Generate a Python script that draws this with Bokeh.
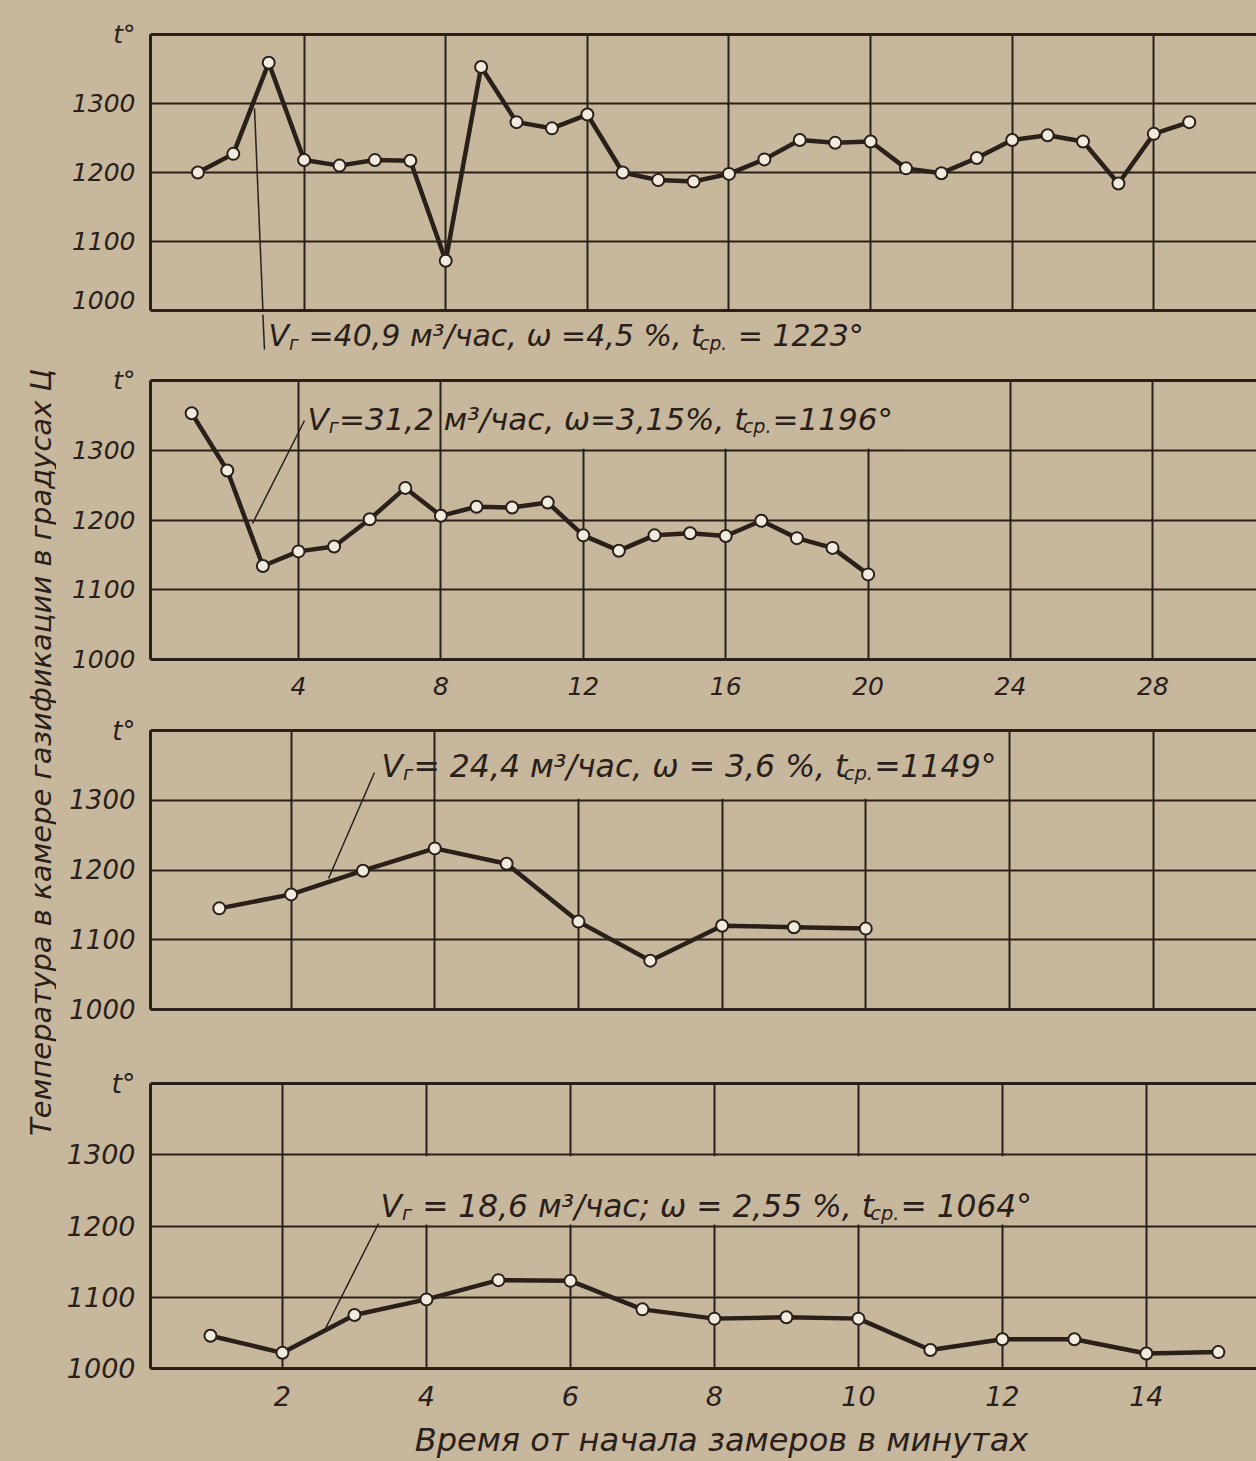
from math import pi
from bokeh.plotting import figure
from bokeh.models import Range1d, FixedTicker, LinearAxis, Label, Arrow
from bokeh.layouts import row, column
from bokeh.embed import file_html
from bokeh.resources import INLINE

# ---------------- data ----------------
minutes_1 = list(range(1, 30))
temp_1 = [1200, 1227, 1359, 1218, 1210, 1218, 1217, 1072, 1353, 1273, 1264, 1284,
          1200, 1189, 1187, 1198, 1219, 1247, 1243, 1245, 1206, 1199, 1221, 1247,
          1254, 1245, 1184, 1256, 1273]
minutes_2 = list(range(1, 21))
temp_2 = [1353, 1271, 1134, 1155, 1162, 1201, 1246, 1206, 1219, 1218, 1225, 1178,
          1156, 1178, 1181, 1177, 1199, 1174, 1160, 1122]
minutes_3 = list(range(1, 11))
temp_3 = [1145, 1165, 1199, 1231, 1209, 1126, 1070, 1120, 1118, 1116]
minutes_4 = list(range(1, 16))
temp_4 = [1046, 1022, 1075, 1097, 1124, 1123, 1083, 1070, 1072, 1070, 1026, 1041,
          1041, 1021, 1023]

y_ticks = [1000, 1100, 1200, 1300, 1400]
y_tick_text = {1400: "t°"}
x_ticks_wide = [4, 8, 12, 16, 20, 24, 28]
x_ticks_narrow = [2, 4, 6, 8, 10, 12, 14]

NB = "\u00a0"
notes = [
    [("V", False), ("г", True), (NB + "=40,9 м³/час, ω" + NB + "=4,5 %, t", False), ("ср.", True), (NB + "= 1223°", False)],
    [("V", False), ("г", True), ("=31,2 м³/час, ω=3,15%, t", False), ("ср.", True), ("=1196°", False)],
    [("V", False), ("г", True), ("= 24,4 м³/час, ω = 3,6 %, t", False), ("ср.", True), ("=1149°", False)],
    [("V", False), ("г", True), (NB + "= 18,6 м³/час; ω = 2,55 %, t", False), ("ср.", True), ("= 1064°", False)],
]
y_title = "Температура в камере газификации в градусах Ц"
x_title = "Время от начала замеров в минутах"

# ---------------- style ----------------
PAPER = "#c6b79d"
INK = "#2a2019"
DOT = "#f2ebdd"
FONT = "DejaVu Sans"

W_ADV = {" ": .318, NB: .318, "%": .950, ",": .318, ";": .337, ".": .318, "/": .337,
         "=": .838, "V": .684, "t": .392, "°": .5, "³": .401, "ω": .818, "м": .677,
         "ч": .57, "а": .613, "с": .55, "р": .635, "г": .48}


def text_width(s, fs):
    return sum(W_ADV.get(c, .636) for c in s) * fs


def add_note(p, sx, sy, parts, fs):
    """Place a note in canvas pixels (sx = left, sy = baseline)."""
    off = 0.0
    for txt, sub in parts:
        size = fs * 0.62 if sub else fs
        p.add_layout(Label(x=sx + off, y=sy + (fs * 0.26 if sub else 0),
                           x_units="canvas", y_units="canvas",
                           text=txt, text_font=FONT, text_font_style="italic",
                           text_font_size=f"{size:.1f}px", text_color=INK,
                           text_baseline="alphabetic", text_align="left"))
        off += text_width(txt, size) + (1 if sub else 0)


def leader(p, x0, y0, x1, y1):
    p.add_layout(Arrow(x_start=x0, y_start=y0, x_end=x1, y_end=y1,
                       start_units="canvas", end_units="canvas", end=None,
                       line_color=INK, line_width=1.5))


def strip_fig(width, height):
    s = figure(width=width, height=height, x_range=Range1d(0, width),
               y_range=Range1d(0, height), min_border=0, toolbar_location=None,
               output_backend="svg", x_axis_type=None, y_axis_type=None)
    s.background_fill_color = PAPER
    s.border_fill_color = PAPER
    s.outline_line_color = None
    s.grid.visible = False
    s.styles = {"background-color": PAPER}
    return s


def panel(height, b_top, b_bottom, x0, x1, grid_x, label_x, fs):
    p = figure(width=1200, height=height, x_range=Range1d(x0, x1),
               y_range=Range1d(1000, 1400), min_border_left=94, min_border_right=0,
               min_border_top=b_top, min_border_bottom=b_bottom,
               toolbar_location=None, output_backend="svg")
    p.background_fill_color = PAPER
    p.border_fill_color = PAPER
    p.outline_line_color = None
    p.styles = {"background-color": PAPER}
    p.xaxis.ticker = FixedTicker(ticks=label_x)
    p.yaxis.ticker = FixedTicker(ticks=y_ticks)
    p.yaxis.major_label_overrides = y_tick_text
    for ax in (p.xaxis[0], p.yaxis[0]):
        ax.axis_line_color = INK
        ax.axis_line_width = 3
        ax.major_tick_line_color = None
        ax.minor_tick_line_color = None
        ax.major_label_text_font = FONT
        ax.major_label_text_font_style = "italic"
        ax.major_label_text_font_size = fs
        ax.major_label_text_color = INK
    p.yaxis.major_label_standoff = 9
    p.xaxis.major_label_standoff = 11
    top = LinearAxis(ticker=FixedTicker(ticks=[]), axis_line_color=INK, axis_line_width=3,
                     major_tick_line_color=None, minor_tick_line_color=None)
    p.add_layout(top, "above")
    p.xgrid.ticker = FixedTicker(ticks=grid_x)
    p.ygrid.ticker = FixedTicker(ticks=[1100, 1200, 1300])
    p.grid.grid_line_color = INK
    p.grid.grid_line_width = 2
    p.grid.grid_line_alpha = 1
    return p


def draw_series(p, xs, ys):
    p.line(xs, ys, line_width=4.5, color=INK, line_join="round")
    p.scatter(xs, ys, size=12, fill_color=DOT, line_color=INK, line_width=2)


# panel 1 (page y 0..314), frame 34..310
p1 = panel(314, 34, 4, -0.339, 30.9, x_ticks_wide, [], "25px")
p1.line([2.836, 2.599], [1000, 1293], line_width=1.5, color=INK)
draw_series(p1, minutes_1, temp_1)

# note under panel 1 (page y 314..362)
n1 = strip_fig(1200, 48)
leader(n1, 206.4, 0, 208, 35)
add_note(n1, 212, 21, notes[0], 30)

# panel 2 (page y 362..705)
p2 = panel(343, 18, 46, -0.157, 30.91, x_ticks_wide, x_ticks_wide, "25px")
p2.quad(left=[9], right=[21], bottom=[1302], top=[1400], fill_color=PAPER, line_color=None)
draw_series(p2, minutes_2, temp_2)
leader(p2, 248, 58, 196, 161)
add_note(p2, 251, 56, notes[1], 31)

# panel 3 (page y 705..1040)
p3 = panel(335, 25, 31, 0.042, 15.44, x_ticks_narrow, [], "26px")
p3.quad(left=[5], right=[11.8], bottom=[1302], top=[1400], fill_color=PAPER, line_color=None)
draw_series(p3, minutes_3, temp_3)
leader(p3, 318, 67, 272, 173)
add_note(p3, 325, 60, notes[2], 31.5)

# panel 4 (page y 1040..1412)
p4 = panel(372, 43, 44, 0.167, 15.53, x_ticks_narrow, x_ticks_narrow, "27px")
p4.quad(left=[3], right=[12.6], bottom=[1202], top=[1298], fill_color=PAPER, line_color=None)
draw_series(p4, minutes_4, temp_4)
leader(p4, 322, 183, 268, 290)
add_note(p4, 324, 165, notes[3], 31.3)

# x-axis title (page y 1412..1461)
xt = strip_fig(1200, 49)
xt.add_layout(Label(x=665, y=27, x_units="canvas", y_units="canvas", text=x_title,
                    text_font=FONT, text_font_style="italic", text_font_size="32px",
                    text_color=INK, text_align="center", text_baseline="alphabetic"))

# left strip with the vertical title
strip = strip_fig(56, 1461)
strip.add_layout(Label(x=40, y=752, x_units="canvas", y_units="canvas", text=y_title,
                       angle=pi / 2, text_font=FONT, text_font_style="italic",
                       text_font_size="29px", text_color=INK,
                       text_align="center", text_baseline="middle"))

col = column(p1, n1, p2, p3, p4, xt, styles={"background-color": PAPER})
layout = row(strip, col, styles={"background-color": PAPER})
open("out.html", "w").write(file_html(layout, INLINE))
